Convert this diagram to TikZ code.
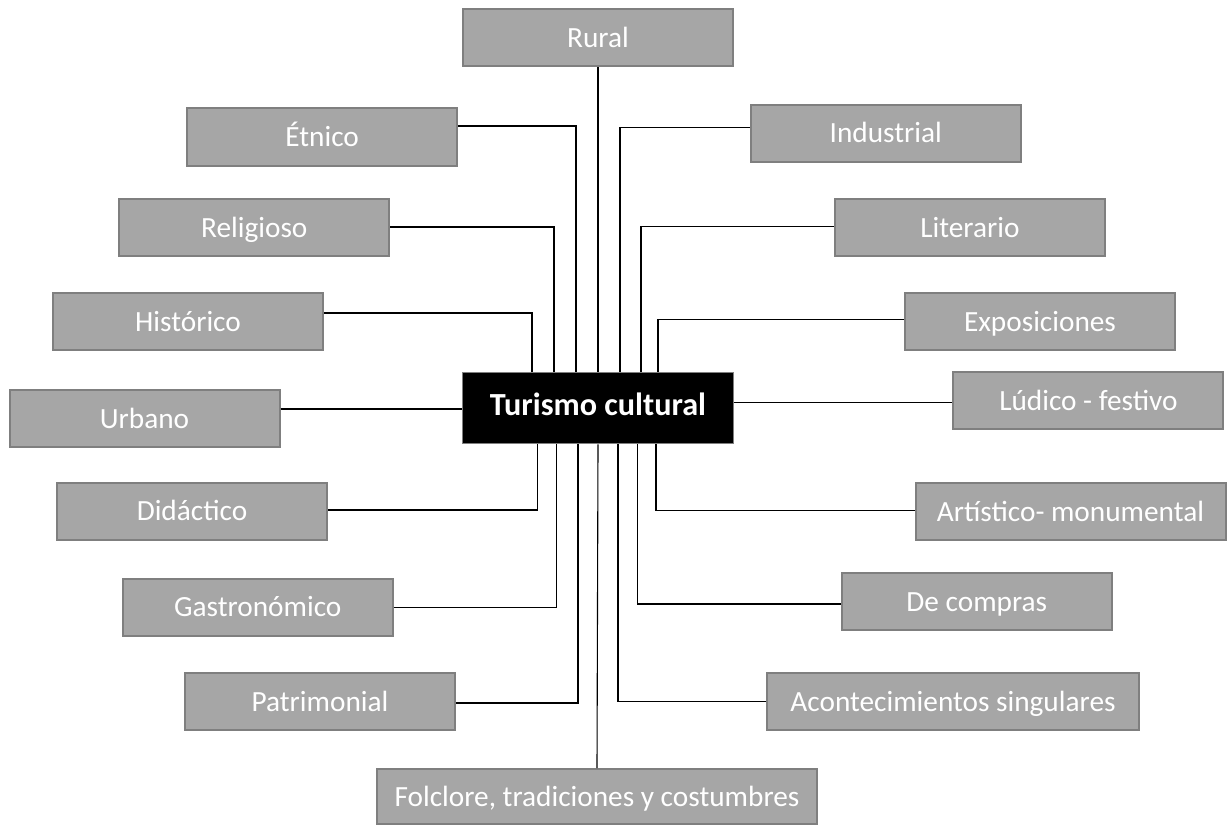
\documentclass[tikz,border=0pt]{standalone}
\usepackage{fontspec}
\setmainfont{Carlito}
\definecolor{boxfill}{HTML}{A6A6A6}
\definecolor{boxline}{HTML}{7F7F7F}
\begin{document}
\begin{tikzpicture}[x=1pt,y=-1pt,
  cat/.style={draw=boxline, line width=2pt, fill=boxfill, text=white, inner sep=0pt,
    minimum height=57pt, minimum width=270pt, text height=20pt, text depth=1pt,
    font=\fontsize{29.3}{33}\selectfont},
  hub/.style={draw=boxline, line width=1pt, fill=black, text=white, inner sep=0pt,
    minimum height=71pt, minimum width=270.6pt, text height=22pt, text depth=8.6pt,
    font=\fontsize{32.2}{36}\selectfont\bfseries},
  link/.style={draw=black, line width=1.1pt}]
\useasboundingbox (0,0) rectangle (1229,825);

% nodes
\node[hub] (c) at (598,408.3) {Turismo cultural};
\node[cat] (rural) at (598,37.5) {Rural};
\node[cat, minimum height=58pt] (etnico) at (322.2,136.5) {Étnico};
\node[cat] (religioso) at (254.3,227.5) {Religioso};
\node[cat] (historico) at (188,321.5) {Histórico};
\node[cat] (urbano) at (144.5,418.5) {Urbano};
\node[cat] (didactico) at (192,511.3) {Didáctico};
\node[cat] (gastro) at (257.8,607.3) {Gastronómico};
\node[cat] (patri) at (320,701.7) {Patrimonial};
\node[cat, minimum width=440pt, minimum height=55pt] (folclore) at (597,796.5) {Folclore, tradiciones y costumbres};
\node[cat] (industrial) at (885.8,133.3) {Industrial};
\node[cat] (literario) at (969.9,227.7) {Literario};
\node[cat] (expo) at (1040,321.7) {Exposiciones};
\node[cat] (ludico) at (1088.4,400.7) {Lúdico - festivo};
\node[cat, minimum width=310pt] (artistico) at (1070.5,511.7) {Artístico- monumental};
\node[cat] (compras) at (976.8,601.7) {De compras};
\node[cat, minimum width=371.4pt] (aconte) at (953,701.7) {Acontecimientos singulares};

% connectors
\begin{scope}[link]
\draw (rural.south) -- (c.north);
\draw (folclore.north) -- (c.south);
\draw (urbano.east |- 0,409) -- (c.west |- 0,409);
\draw (c.east |- 0,402.7) -- (ludico.west |- 0,402.7);
\draw (etnico.east |- 0,126) -| (576,0 |- c.north);
\draw (religioso.east |- 0,227) -| (554,0 |- c.north);
\draw (historico.east |- 0,313) -| (532,0 |- c.north);
\draw (industrial.west |- 0,127.3) -| (620,0 |- c.north);
\draw (literario.west |- 0,226.7) -| (641,0 |- c.north);
\draw (expo.west |- 0,319.3) -| (658,0 |- c.north);
\draw (didactico.east |- 0,510) -| (537.8,0 |- c.south);
\draw (gastro.east |- 0,607.3) -| (556.7,0 |- c.south);
\draw (patri.east |- 0,703) -| (578,0 |- c.south);
\draw (aconte.west |- 0,701.5) -| (618,0 |- c.south);
\draw (compras.west |- 0,604) -| (637.5,0 |- c.south);
\draw (artistico.west |- 0,510.7) -| (656,0 |- c.south);
\end{scope}
\end{tikzpicture}
\end{document}
